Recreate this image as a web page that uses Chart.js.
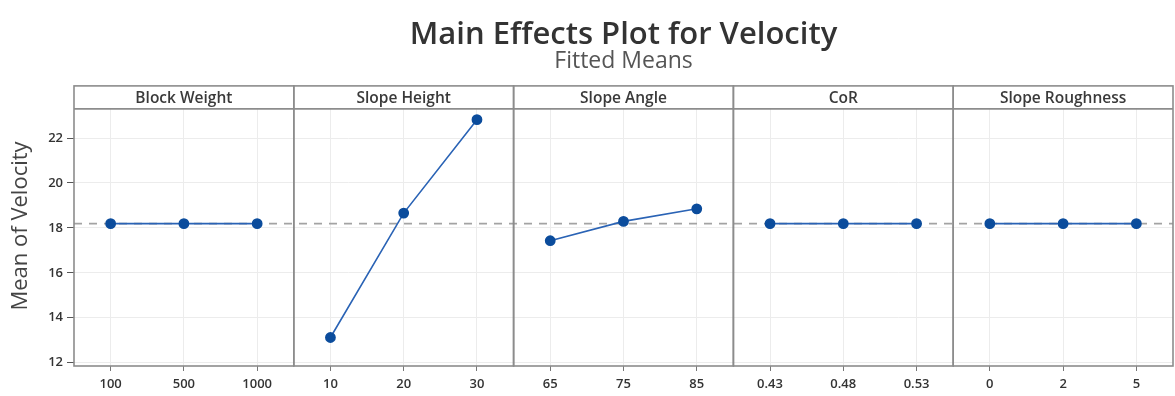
<!DOCTYPE html>
<html>
<head>
<meta charset="utf-8">
<script src="https://cdn.jsdelivr.net/npm/chart.js@4.4.1/dist/chart.umd.min.js"></script>
<style>
  html, body { margin: 0; padding: 0; background: #fff; }
  #wrap { width: 1175px; height: 396px; position: relative; }
</style>
</head>
<body>
<div id="wrap"><canvas id="effects"></canvas></div>
<script>
const factorNames = ["Block Weight", "Slope Height", "Slope Angle", "CoR", "Slope Roughness"]
const blockWeightLevels = ["100", "500", "1000"]
const slopeHeightLevels = ["10", "20", "30"]
const slopeAngleLevels = ["65", "75", "85"]
const corLevels = ["0.43", "0.48", "0.53"]
const roughnessLevels = ["0", "2", "5"]

const blockWeightMeans = [18.19, 18.19, 18.19]
const slopeHeightMeans = [13.12, 18.66, 22.82]
const slopeAngleMeans = [17.43, 18.29, 18.85]
const corMeans = [18.19, 18.19, 18.19]
const roughnessMeans = [18.19, 18.19, 18.19]

const grandMean = 18.19
const yTicks = [12, 14, 16, 18, 20, 22]
const yTitle = "Mean of Velocity"

const levelGroups = [blockWeightLevels, slopeHeightLevels, slopeAngleLevels, corLevels, roughnessLevels]
const meanGroups = [blockWeightMeans, slopeHeightMeans, slopeAngleMeans, corMeans, roughnessMeans]

const labels = levelGroups.flat()

// one dataset per factor, padded with nulls so each line stays inside its own panel
let offset = 0
const datasets = meanGroups.map((means, i) => {
  const data = labels.map(() => null)
  means.forEach((v, j) => { data[offset + j] = v })
  offset += means.length
  return {
    label: factorNames[i],
    data,
    borderColor: "#2a63b5",
    backgroundColor: "#0b4c9c",
    pointBackgroundColor: "#0b4c9c",
    pointBorderColor: "#0b4c9c",
    borderWidth: 1.6,
    pointRadius: 4.6,
    spanGaps: false,
    tension: 0
  }
})

const HEADER_H = 23

const panelPlugin = {
  id: "panels",
  beforeDatasetsDraw(chart) {
    const { ctx, chartArea, scales } = chart
    const yPix = scales.y.getPixelForValue(grandMean)
    ctx.save()
    ctx.strokeStyle = "#a3a3a3"
    ctx.lineWidth = 1.6
    ctx.setLineDash([8, 7])
    ctx.beginPath()
    ctx.moveTo(chartArea.left, yPix)
    ctx.lineTo(chartArea.right, yPix)
    ctx.stroke()
    ctx.restore()
  },
  afterDatasetsDraw(chart) {
    const { ctx, chartArea } = chart
    const step = chartArea.width / labels.length
    const top = chartArea.top - HEADER_H
    ctx.save()
    ctx.strokeStyle = "#8c8c8c"
    ctx.lineWidth = 1.6
    let start = 0
    levelGroups.forEach((group, i) => {
      const left = chartArea.left + start * step
      const right = chartArea.left + (start + group.length) * step
      start += group.length
      ctx.strokeRect(left, top, right - left, chartArea.bottom - top)
      ctx.beginPath()
      ctx.moveTo(left, chartArea.top)
      ctx.lineTo(right, chartArea.top)
      ctx.stroke()
      ctx.fillStyle = "#3a3a3a"
      ctx.font = "600 15.5px 'Open Sans', sans-serif"
      ctx.textAlign = "center"
      ctx.textBaseline = "middle"
      ctx.fillText(factorNames[i], (left + right) / 2, top + HEADER_H / 2 + 1)
    })

    // axis title centred on the panels, header strip included
    ctx.translate(21, (top + chartArea.bottom) / 2)
    ctx.rotate(-Math.PI / 2)
    ctx.fillStyle = "#444444"
    ctx.font = "22px 'Open Sans', sans-serif"
    ctx.fillText(yTitle, 0, 0)
    ctx.restore()
  }
}

new Chart(document.getElementById("effects"), {
  type: "line",
  data: { labels, datasets },
  plugins: [panelPlugin],
  options: {
    responsive: true,
    maintainAspectRatio: false,
    animation: false,
    layout: { autoPadding: false, padding: { right: 2, bottom: 0, top: 0, left: 0 } },
    plugins: {
      legend: { display: false },
      tooltip: { enabled: false },
      title: {
        display: true,
        fullSize: false,
        text: "Main Effects Plot for Velocity",
        color: "#333333",
        font: { family: "'Open Sans', sans-serif", size: 31, weight: "600", lineHeight: 0.9 },
        padding: { top: 21, bottom: 0 }
      },
      subtitle: {
        display: true,
        fullSize: false,
        text: "Fitted Means",
        color: "#555555",
        font: { family: "'Open Sans', sans-serif", size: 23, weight: "normal", lineHeight: 1 },
        padding: { top: 1, bottom: 36 }
      }
    },
    scales: {
      x: {
        type: "category",
        offset: true,
        afterFit: (scale) => { scale.height = 30 },
        grid: { color: "#ececec", offset: false, drawTicks: true, tickLength: 5, tickColor: "#777777" },
        border: { display: false },
        ticks: {
          color: "#333333",
          padding: 5,
          maxRotation: 0,
          autoSkip: false,
          font: { family: "'Open Sans', sans-serif", size: 13, weight: "600" }
        }
      },
      y: {
        min: 11.85,
        max: 23.3,
        afterFit: (scale) => { scale.width = 74 },
        afterBuildTicks: (scale) => { scale.ticks = yTicks.map((value) => ({ value })) },
        grid: { color: "#ececec", tickColor: "#555555", tickLength: 7 },
        border: { display: false },
        ticks: {
          color: "#333333",
          padding: 4,
          font: { family: "'Open Sans', sans-serif", size: 13, weight: "600" }
        }
      }
    }
  }
})
</script>
</body>
</html>
